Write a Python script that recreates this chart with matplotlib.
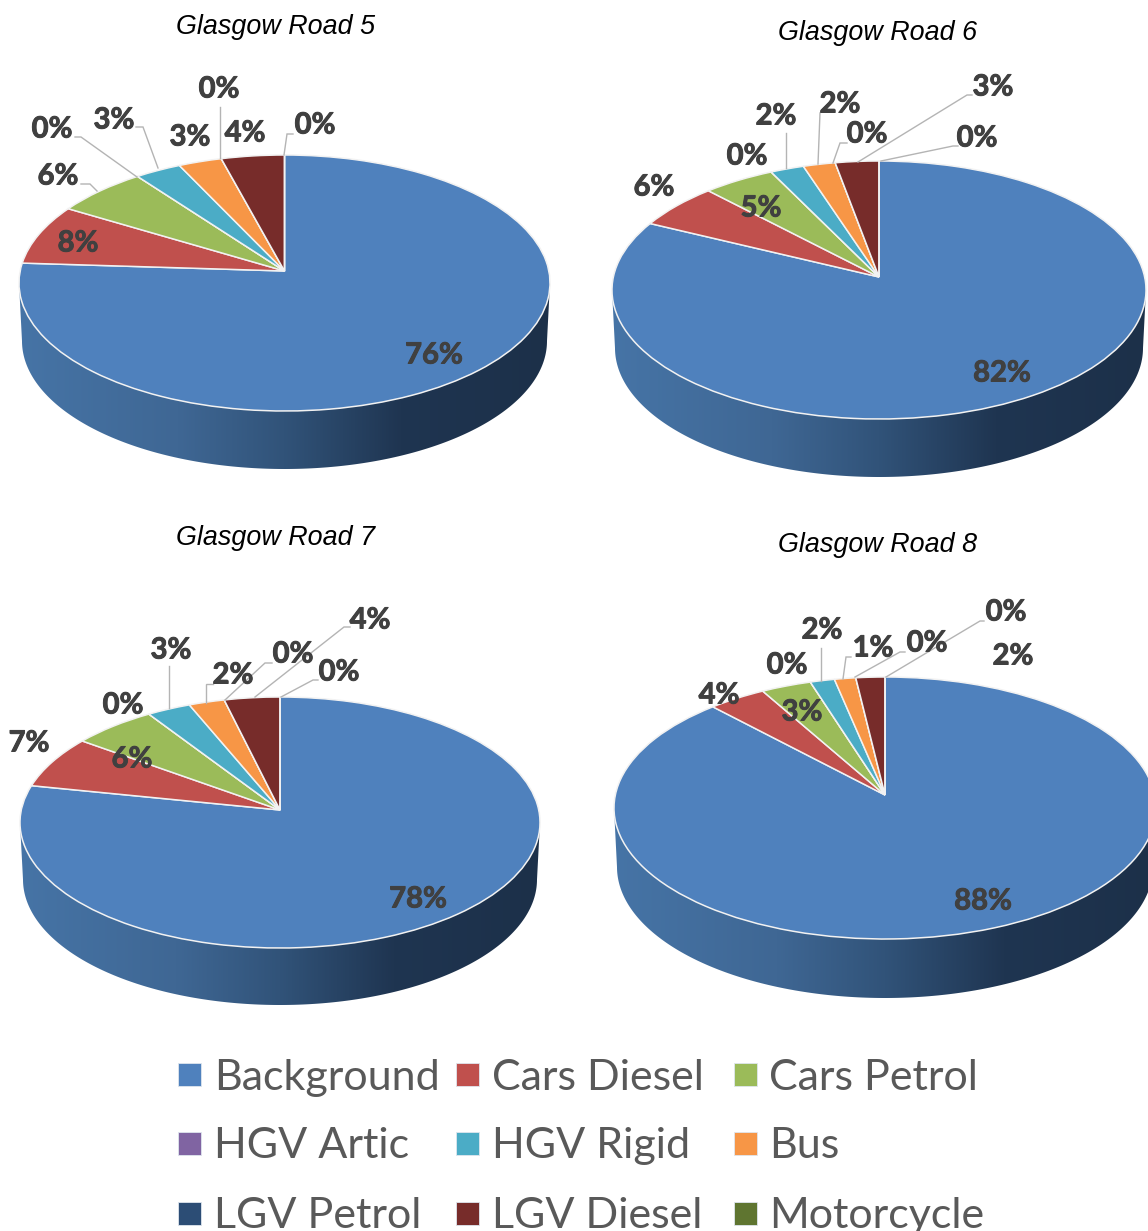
import numpy as np
import matplotlib
matplotlib.use('Agg')
import matplotlib.pyplot as plt
import matplotlib.patheffects as pe
from matplotlib.colors import LinearSegmentedColormap
from matplotlib.patches import Polygon, Rectangle
from matplotlib.transforms import Affine2D, Transform

# series order runs clockwise from 12 o'clock
categories = ['Background', 'Cars Diesel', 'Cars Petrol', 'HGV Artic', 'HGV Rigid',
              'Bus', 'LGV Petrol', 'LGV Diesel', 'Motorcycle']
colors = ['#4f81bd', '#c0504d', '#9bbb59', '#8064a2', '#4bacc6',
          '#f79646', '#2c4d75', '#772c2a', '#5f7530']

road5 = [76.0, 7.6, 6.2, 0.0, 3.1, 2.9, 0.0, 4.2, 0.0]
road6 = [82.2, 5.7, 4.8, 0.0, 2.25, 2.15, 0.0, 2.9, 0.0]
road7 = [78.2, 6.8, 5.75, 0.0, 3.0, 2.45, 0.0, 3.8, 0.0]
road8 = [88.0, 3.8, 3.3, 0.0, 1.6, 1.4, 0.0, 1.9, 0.0]

# layout, all in reference pixels
pies = [
    dict(title='Glasgow Road 5', title_xy=(276, 27), values=road5,
         apex=(284.5, 271), top=155, bottom=411, left=19, right=550, rim=469,
         labels=[(434, 353), (78, 241), (58, 174), (52, 127), (114, 118),
                 (190, 135), (219, 87), (245, 131), (315, 123)],
         leaders=[[(81, 184), (90, 184), (97, 191)],
                  [(75, 137), (81, 137), (137, 177)],
                  [(136, 127), (143, 127), (158, 168)],
                  [(220, 107), (220, 158)],
                  [(293, 134), (287, 134), (284, 155)]]),
    dict(title='Glasgow Road 6', title_xy=(878, 33), values=road6,
         apex=(879, 277), top=161, bottom=419, left=612, right=1146, rim=477,
         labels=[(1002, 371), (654, 185), (761, 206), (747, 154), (776, 114),
                 (840, 102), (867, 132), (993, 85), (977, 136)],
         leaders=[[(786, 133), (786, 168)],
                  [(820, 113), (818, 164)],
                  [(847, 143), (840, 143), (833, 163)],
                  [(972, 95), (967, 95), (858, 162)],
                  [(958, 146), (953, 146), (881, 161)]]),
    dict(title='Glasgow Road 7', title_xy=(276, 538), values=road7,
         apex=(280, 810), top=697, bottom=948, left=20, right=540, rim=1005,
         labels=[(418, 897), (29, 741), (132, 757), (123, 703), (171, 648),
                 (233, 673), (293, 652), (370, 618), (339, 670)],
         leaders=[[(169, 666), (169, 708)],
                  [(213, 684), (206, 684), (206, 703)],
                  [(272, 663), (265, 663), (225, 700)],
                  [(350, 627), (344, 627), (255, 697)],
                  [(318, 680), (313, 680), (281, 697)]]),
    dict(title='Glasgow Road 8', title_xy=(878, 545), values=road8,
         apex=(885, 795), top=677, bottom=939, left=614, right=1156, rim=998,
         labels=[(983, 899), (719, 693), (802, 710), (787, 663), (822, 628),
                 (873, 646), (927, 641), (1013, 654), (1006, 610)],
         leaders=[[(821, 648), (821, 681)],
                  [(851, 657), (846, 657), (843, 679)],
                  [(905, 652), (900, 652), (855, 677)],
                  [(984, 621), (980, 621), (886, 677)]]),
]

legend_x = [178, 456, 734]
legend_text_x = [214, 492, 769]
legend_y = [1063, 1132, 1202]
legend_base = [1090, 1158, 1228]

rim_cmap = LinearSegmentedColormap.from_list('rim', [
    (0.0, '#4674a6'), (0.3, '#3f6794'), (0.5, '#315379'),
    (0.72, '#1f3551'), (1.0, '#1c3049')])


class Tilt(Transform):
    """projective map of the unit circle, near side of the disc drawn bigger"""
    input_dims = 2
    output_dims = 2

    def __init__(self, a, b, k):
        super().__init__()
        self.a, self.b, self.k = a, b, k

    def transform_non_affine(self, xy):
        xy = np.asarray(xy)
        w = 1 + self.k * xy[:, 1]
        return np.column_stack([self.a * xy[:, 0] / w, -self.b * xy[:, 1] / w])


fig = plt.figure(figsize=(11.48, 12.31), dpi=100, facecolor='white')
ax = fig.add_axes([0, 0, 1, 1])
bolder = [pe.withStroke(linewidth=0.7, foreground='#404040')]

for p in pies:
    ax_, ay_ = p['apex']
    up = ay_ - p['top']
    down = p['bottom'] - ay_
    k = (down - up) / (down + up)
    b = up * (1 + k)
    rx = (p['right'] - p['left']) / 2
    a = rx * np.sqrt(1 - k ** 2)
    cx = (p['right'] + p['left']) / 2
    cy = (p['top'] + p['bottom']) / 2
    ry = (p['bottom'] - p['top']) / 2
    depth = p['rim'] - p['bottom']

    # side wall, gradient clipped to the outline
    t = np.linspace(np.pi, 0, 200)
    rim_xy = np.column_stack([cx + (rx - 3) * np.cos(t), cy + depth + ry * np.sin(t)])
    rim_xy = np.vstack([[p['left'], cy], rim_xy, [p['right'], cy]])
    poly = Polygon(rim_xy, closed=True, transform=ax.transData, fc='none', ec='none')
    ax.add_patch(poly)
    im = ax.imshow(np.linspace(0, 1, 256)[None, :], cmap=rim_cmap, aspect='auto',
                   extent=(p['left'], p['right'], p['rim'], cy), zorder=1)
    im.set_clip_path(poly)

    # top of the disc
    wedges, _ = ax.pie(p['values'], colors=colors, startangle=90, counterclock=False,
                       wedgeprops=dict(edgecolor='#f2f2f2', linewidth=1.1))
    tr = Tilt(a, b, k) + Affine2D().translate(ax_, ay_) + ax.transData
    for w in wedges:
        w.set_transform(tr)
        w.set_zorder(2)

    for line in p['leaders']:
        xs, ys = zip(*line)
        ax.plot(xs, ys, color='#b4b4b4', lw=1.0, zorder=3, solid_joinstyle='miter')

    for val, (x, y) in zip(p['values'], p['labels']):
        ax.text(x, y + 2.5, '%.0f%%' % val, ha='center', va='center', family='Lato',
                fontweight='bold', fontsize=21, color='#404040', zorder=4,
                path_effects=bolder)

    ax.text(p['title_xy'][0], p['title_xy'][1], p['title'], ha='center', va='center',
            family='Liberation Sans', style='italic', fontsize=19.4, color='black', zorder=4)

for i, name in enumerate(categories):
    row, col = i // 3, i % 3
    ax.add_patch(Rectangle((legend_x[col], legend_y[row]), 23, 23, fc=colors[i],
                           ec='#dfe6ee', lw=0.6, zorder=4))
    ax.text(legend_text_x[col], legend_base[row], name, ha='left', va='baseline',
            family='Lato', fontsize=31, color='#595959', zorder=4)

ax.set_xlim(0, 1148)
ax.set_ylim(1231, 0)
ax.set_aspect('auto')
ax.axis('off')

plt.savefig('out.png', dpi=100, facecolor='white')
plt.close()
